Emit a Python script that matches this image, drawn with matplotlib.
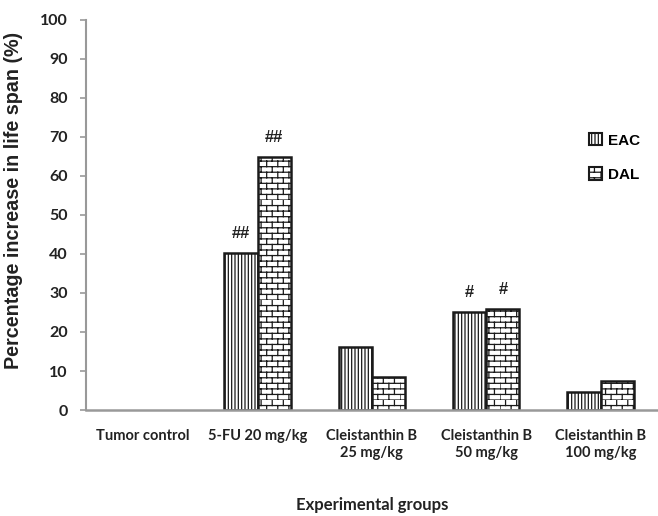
import warnings
import numpy as np
import matplotlib
matplotlib.use('Agg')
import matplotlib.pyplot as plt
import matplotlib.hatch as mhatch
from matplotlib.path import Path

warnings.filterwarnings('ignore')

groups = ['Tumor control', '5-FU 20 mg/kg', 'Cleistanthin B\n25 mg/kg',
          'Cleistanthin B\n50 mg/kg', 'Cleistanthin B\n100 mg/kg']
eac = [0, 40.3, 16.2, 25.2, 4.6]
dal = [0, 64.9, 8.4, 25.9, 7.4]
eac_marks = ['', '##', '', '#', '']
dal_marks = ['', '##', '', '#', '']


# brick pattern for the DAL bars
class BrickHatch(mhatch.HatchPatternBase):
    def __init__(self, hatch, density):
        n = hatch.count('b')
        self.rows = 18 if n else 0
        self.cols = 9
        self.num_vertices = self.rows * 2 + self.rows * self.cols * 2

    def set_vertices_and_codes(self, vertices, codes):
        k = 0
        for i in range(self.rows):
            y0 = i / self.rows
            y1 = (i + 1) / self.rows
            vertices[k] = (0, y0)
            vertices[k + 1] = (1, y0)
            codes[k] = Path.MOVETO
            codes[k + 1] = Path.LINETO
            k += 2
            off = 0.5 * (i % 2)
            for j in range(self.cols):
                xx = (j + off) / self.cols
                vertices[k] = (xx, y0)
                vertices[k + 1] = (xx, y1)
                codes[k] = Path.MOVETO
                codes[k + 1] = Path.LINETO
                k += 2


mhatch._hatch_types.append(BrickHatch)

plt.rcParams['hatch.linewidth'] = 0.9

fig = plt.figure(figsize=(6.58, 5.16), dpi=100)
ax = fig.add_axes([0.1307, 0.2054, 0.869, 0.756])

x = np.arange(len(groups))
w = 0.29
lw_eac = [1.8 if v > 0 else 0 for v in eac]
lw_dal = [1.8 if v > 0 else 0 for v in dal]
ax.bar(x - w / 2, eac, w, color='white', edgecolor='#1a1a1a',
       hatch='|||||', linewidth=lw_eac, label='EAC')
ax.bar(x + w / 2, dal, w, color='white', edgecolor='#1a1a1a',
       hatch='b', linewidth=lw_dal, label='DAL')

for xi, v, m in zip(x - w / 2, eac, eac_marks):
    if m:
        ax.text(xi, v + 5, m, ha='center', va='center', fontsize=12,
                fontweight='bold', family='Liberation Sans', color='#222222')
for xi, v, m in zip(x + w / 2, dal, dal_marks):
    if m:
        ax.text(xi, v + 5, m, ha='center', va='center', fontsize=12,
                fontweight='bold', family='Liberation Sans', color='#222222')

ax.set_xlim(-0.5, 4.5)
ax.set_ylim(0, 100)
ax.set_yticks(np.arange(0, 101, 10))
ax.set_xticks(x)
ax.set_xticklabels(groups, fontsize=10.5, fontweight='bold', family='Lato',
                   color='#222222')
for lab in ax.get_yticklabels():
    lab.set_fontsize(11.5)
    lab.set_fontweight('bold')
    lab.set_family('Lato')
    lab.set_color('#222222')

ax.spines['top'].set_visible(False)
ax.spines['right'].set_visible(False)
ax.spines['left'].set_color('#999999')
ax.spines['bottom'].set_color('#999999')
ax.spines['left'].set_linewidth(1.5)
ax.spines['bottom'].set_linewidth(1.8)
ax.tick_params(axis='x', length=0, pad=14)
ax.tick_params(axis='y', length=4.5, width=1.2, color='#999999', pad=8.5)

ax.set_ylabel('Percentage increase in life span (%)', fontsize=14.2,
              fontweight='bold', family='Liberation Sans', color='#222222')
ax.yaxis.set_label_coords(-0.110, 0.536)
ax.set_xlabel('Experimental groups', fontsize=12, fontweight='bold',
              family='Lato', color='#222222', labelpad=27)

leg = ax.legend(loc='upper left', bbox_to_anchor=(0.855, 0.745), frameon=False,
                handlelength=0.85, handleheight=0.85, labelspacing=1.3,
                handletextpad=0.4,
                prop={'family': 'Liberation Sans', 'weight': 'bold', 'size': 11})
for h in leg.legend_handles:
    h.set_linewidth(1.5)
    h.set_edgecolor('#1a1a1a')

fig.savefig('out.png', dpi=100)
